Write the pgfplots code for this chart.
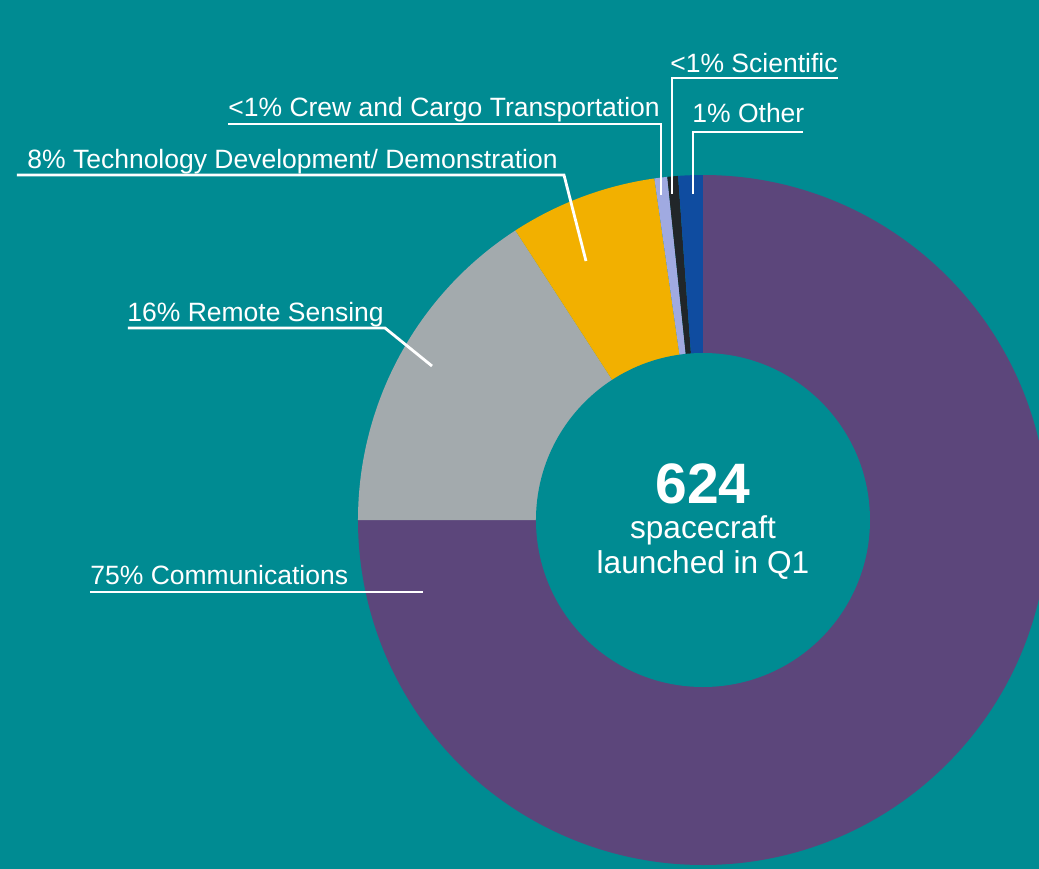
\documentclass[border=0pt]{standalone}
\usepackage{fontspec}
\setmainfont{Liberation Sans}
\usepackage{pgfplots}
\pgfplotsset{compat=1.18}
\definecolor{bg}{RGB}{0,139,146}
\definecolor{cComm}{RGB}{92,70,123}
\definecolor{cRemote}{RGB}{163,170,173}
\definecolor{cTech}{RGB}{242,176,0}
\definecolor{cCrew}{RGB}{160,170,225}
\definecolor{cSci}{RGB}{33,38,41}
\definecolor{cOther}{RGB}{15,76,160}
% shares (percent of 624 spacecraft)
\def\vComm{75}
\def\vRemote{15.85}
\def\vTech{6.9}
\def\vCrew{0.6}
\def\vSci{0.5}
\def\vOther{1.15}
\pgfmathsetmacro{\aA}{90}
\pgfmathsetmacro{\aB}{\aA-3.6*\vComm}
\pgfmathsetmacro{\aC}{\aB-3.6*\vRemote}
\pgfmathsetmacro{\aD}{\aC-3.6*\vTech}
\pgfmathsetmacro{\aE}{\aD-3.6*\vCrew}
\pgfmathsetmacro{\aF}{\aE-3.6*\vSci}
\pgfmathsetmacro{\aG}{\aF-3.6*\vOther}
\newcommand{\lbl}{\fontsize{13.25bp}{16bp}\selectfont}
\begin{document}
\begin{tikzpicture}
\useasboundingbox (0,0) rectangle (519.5bp,434.5bp);
\begin{axis}[
  at={(0,0)}, anchor=south west,
  x=0.5bp, y=0.5bp,
  xmin=0, xmax=1039, ymin=0, ymax=869,
  hide axis, clip=true,
]
\fill[bg] (axis cs:0,0) rectangle (axis cs:1039,869);
\newcommand{\slice}[3]{\fill[#1] (axis cs:703,349) -- ++(#2:172.5bp) arc[start angle=#2, end angle=#3, radius=172.5bp] -- cycle;}
\slice{cComm}{\aA}{\aB}
\slice{cRemote}{\aB}{\aC}
\slice{cTech}{\aC}{\aD}
\slice{cCrew}{\aD}{\aE}
\slice{cSci}{\aE}{\aF}
\slice{cOther}{\aF}{\aG}
\fill[bg] (axis cs:703,349) circle[radius=83.5bp];
% centre text
\node[white, anchor=base, inner sep=0pt, font=\fontsize{28.5bp}{30bp}\selectfont\bfseries] at (axis cs:703,366) {624};
\node[white, anchor=base, inner sep=0pt, font=\fontsize{15.8bp}{18bp}\selectfont] at (axis cs:703,331) {spacecraft};
\node[white, anchor=base, inner sep=0pt, font=\fontsize{15.8bp}{18bp}\selectfont] at (axis cs:703,296) {launched in Q1};
% labels
\node[white, anchor=base west, inner sep=0pt, font=\lbl] at (axis cs:670,797) {<1\% Scientific};
\node[white, anchor=base west, inner sep=0pt, font=\lbl] at (axis cs:692,747) {1\% Other};
\node[white, anchor=base west, inner sep=0pt, font=\lbl] at (axis cs:228,753) {<1\% Crew and Cargo Transportation};
\node[white, anchor=base west, inner sep=0pt, font=\lbl] at (axis cs:27,701) {8\% Technology Development/ Demonstration};
\node[white, anchor=base west, inner sep=0pt, font=\lbl] at (axis cs:127,548) {16\% Remote Sensing};
\node[white, anchor=base west, inner sep=0pt, font=\lbl] at (axis cs:90,285) {75\% Communications};
% leader lines
\draw[white, line width=1.4bp] (axis cs:838,791) -- (axis cs:672,791) -- (axis cs:672,675);
\draw[white, line width=1.4bp] (axis cs:803,737) -- (axis cs:693,737) -- (axis cs:693,675);
\draw[white, line width=1.4bp] (axis cs:228,745) -- (axis cs:661,745) -- (axis cs:661,674);
\draw[white, line width=1.4bp] (axis cs:17,694) -- (axis cs:564,694) -- (axis cs:586,608);
\draw[white, line width=1.4bp] (axis cs:128,541) -- (axis cs:385,541) -- (axis cs:432,503);
\draw[white, line width=1.4bp] (axis cs:90,277) -- (axis cs:423,277);
\end{axis}
\end{tikzpicture}
\end{document}
